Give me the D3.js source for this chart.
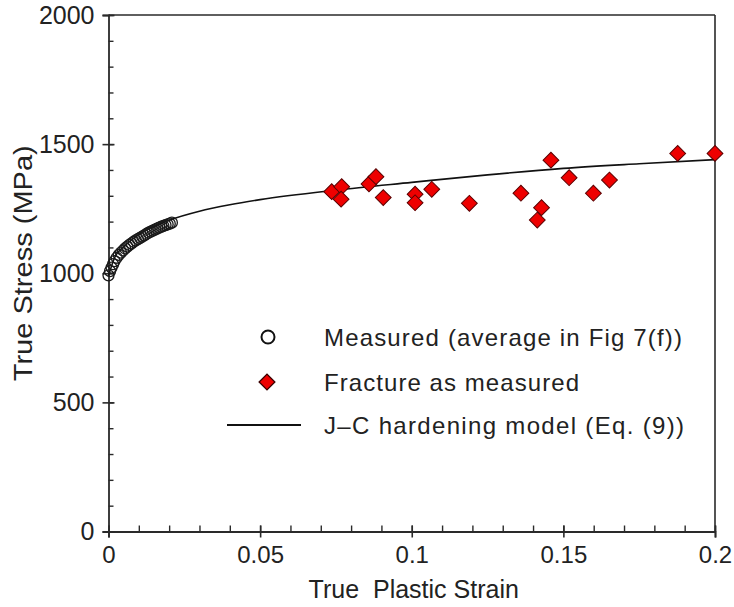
<!DOCTYPE html>
<html>
<head>
<meta charset="utf-8">
<script src="https://cdn.jsdelivr.net/npm/d3@7"></script>
<style>
  html, body { margin: 0; padding: 0; background: #fff; }
  svg { display: block; }
  text { font-family: "Liberation Sans", Arial, sans-serif; fill: #222; }
  .pre { white-space: pre; }
</style>
</head>
<body>
<svg id="chart" width="734" height="607"></svg>
<script>
// ---------- data ----------
const measuredStrain = [0.0000, 0.0005, 0.0010, 0.0015, 0.0020, 0.0027, 0.0034, 0.0041, 0.0048, 0.0055,
  0.0062, 0.0069, 0.0076, 0.0083, 0.0090, 0.0097, 0.0104, 0.0111, 0.0118, 0.0125,
  0.0132, 0.0139, 0.0146, 0.0153, 0.0160, 0.0167, 0.0174, 0.0181, 0.0188, 0.0195, 0.0202, 0.0209];
const measuredStress = [992, 1008, 1022, 1035, 1047, 1060, 1071, 1080, 1088, 1096,
  1103, 1110, 1116, 1122, 1127, 1132, 1137, 1142, 1147, 1152,
  1157, 1161, 1165, 1169, 1173, 1177, 1180, 1183, 1186, 1189, 1192, 1196];

const fractureStrain = [0.0736, 0.0769, 0.0767, 0.0859, 0.0882, 0.0906, 0.1011, 0.1011, 0.1066, 0.1190,
  0.1360, 0.1414, 0.1428, 0.1459, 0.1519, 0.1599, 0.1652, 0.1877, 0.2000];
const fractureStress = [1316, 1335, 1287, 1346, 1374, 1293, 1306, 1273, 1325, 1271,
  1310, 1206, 1254, 1438, 1370, 1310, 1361, 1464, 1464];

const modelStrain = [0, 0.002, 0.005, 0.01, 0.02, 0.03, 0.04, 0.05, 0.075, 0.1, 0.125, 0.15, 0.175, 0.2];
const modelStress = [990, 1060, 1102, 1150, 1205, 1240, 1265, 1285, 1322, 1352, 1381, 1406, 1424, 1440];

const xTicks = [0, 0.05, 0.1, 0.15, 0.2];
const xTickLabels = ["0", "0.05", "0.1", "0.15", "0.2"];
const yTicks = [0, 500, 1000, 1500, 2000];
const yTickLabels = ["0", "500", "1000", "1500", "2000"];
const xMinorTicks = d3.range(0, 21).map(i => i / 100);
const yMinorTicks = d3.range(0, 21).map(i => i * 100);

const legendLabels = ["Measured (average in Fig 7(f))", "Fracture as measured", "J\u2013C hardening model  (Eq. (9))"];
const xTitle = "True  Plastic Strain";
const yTitle = "True Stress (MPa)";

// ---------- layout ----------
const svg = d3.select("#chart");
const x = d3.scaleLinear().domain([0, 0.2]).range([108.5, 715]);
const y = d3.scaleLinear().domain([0, 2000]).range([531.5, 15]);
const axisColor = "#2a2a2a";

// frame (top and right)
svg.append("line").attr("x1", x(0)).attr("x2", x(0.2)).attr("y1", y(2000)).attr("y2", y(2000))
  .attr("stroke", axisColor).attr("stroke-width", 1.6);
svg.append("line").attr("x1", x(0.2)).attr("x2", x(0.2)).attr("y1", y(2000)).attr("y2", y(0))
  .attr("stroke", axisColor).attr("stroke-width", 1.6);

// minor ticks x (inward)
const gxMinor = svg.append("g").attr("transform", `translate(0,${y(0)})`)
  .call(d3.axisBottom(x).tickValues(xMinorTicks).tickSize(-6).tickFormat(""));
gxMinor.select(".domain").remove();
gxMinor.selectAll("line").attr("stroke", axisColor).attr("stroke-width", 1.4);

// minor ticks y (inward)
const gyMinor = svg.append("g").attr("transform", `translate(${x(0)},0)`)
  .call(d3.axisLeft(y).tickValues(yMinorTicks).tickSize(-5).tickFormat(""));
gyMinor.select(".domain").remove();
gyMinor.selectAll("line").attr("stroke", axisColor).attr("stroke-width", 1.4);

// major x axis
const gx = svg.append("g").attr("transform", `translate(0,${y(0)})`)
  .call(d3.axisBottom(x).tickValues(xTicks).tickSize(6).tickPadding(8)
    .tickFormat((d, i) => xTickLabels[i]));
gx.select(".domain").attr("stroke", axisColor).attr("stroke-width", 1.8);
gx.selectAll(".tick line").attr("y1", -6).attr("y2", 6).attr("stroke", axisColor).attr("stroke-width", 1.6);
gx.selectAll(".tick text").attr("font-size", 24).attr("font-family", "Liberation Sans, Arial, sans-serif")
  .attr("fill", "#222");

// major y axis
const gy = svg.append("g").attr("transform", `translate(${x(0)},0)`)
  .call(d3.axisLeft(y).tickValues(yTicks).tickSize(6).tickPadding(8)
    .tickFormat((d, i) => yTickLabels[i]));
gy.select(".domain").attr("stroke", axisColor).attr("stroke-width", 1.8);
gy.selectAll(".tick line").attr("x1", -6).attr("x2", 6).attr("stroke", axisColor).attr("stroke-width", 1.6);
gy.selectAll(".tick text").attr("font-size", 25).attr("font-family", "Liberation Sans, Arial, sans-serif")
  .attr("fill", "#222");

// axis titles
svg.append("text").attr("class", "pre").attr("x", (x(0) + x(0.2)) / 2 + 2).attr("y", 598)
  .attr("text-anchor", "middle").attr("font-size", 25).text(xTitle);
svg.append("text").attr("transform", `translate(32,${(y(0) + y(2000)) / 2 - 10}) rotate(-90)`)
  .attr("text-anchor", "middle").attr("font-size", 25)
  .attr("textLength", 236).attr("lengthAdjust", "spacingAndGlyphs").text(yTitle);

// model curve
const modelData = modelStrain.map((s, i) => [s, modelStress[i]]);
svg.append("path").datum(modelData)
  .attr("fill", "none").attr("stroke", "#111").attr("stroke-width", 1.6)
  .attr("d", d3.line().x(d => x(d[0])).y(d => y(d[1])).curve(d3.curveMonotoneX));

// measured circles
const measuredData = measuredStrain.map((s, i) => [s, measuredStress[i]]);
svg.append("g").selectAll("circle").data(measuredData).join("circle")
  .attr("cx", d => x(d[0])).attr("cy", d => y(d[1])).attr("r", 5.5)
  .attr("fill", "none").attr("stroke", "#1a1a1a").attr("stroke-width", 1.3);

// fracture diamonds
const diamond = d3.symbol().type(d3.symbolSquare).size(125);
const fractureData = fractureStrain.map((s, i) => [s, fractureStress[i]]);
svg.append("g").selectAll("path").data(fractureData).join("path")
  .attr("d", diamond)
  .attr("transform", d => `translate(${x(d[0])},${y(d[1])}) rotate(45)`)
  .attr("fill", "#ee0000").attr("stroke", "#5a0000").attr("stroke-width", 1);

// legend
const lg = svg.append("g");
lg.append("circle").attr("cx", 268).attr("cy", 337).attr("r", 6.5)
  .attr("fill", "#fff").attr("stroke", "#111").attr("stroke-width", 2);
lg.append("path").attr("d", d3.symbol().type(d3.symbolSquare).size(125))
  .attr("transform", "translate(267,382) rotate(45)")
  .attr("fill", "#ee0000").attr("stroke", "#3a0000").attr("stroke-width", 1.3);
lg.append("line").attr("x1", 227).attr("x2", 301).attr("y1", 425).attr("y2", 425)
  .attr("stroke", "#111").attr("stroke-width", 2);
const legendY = [346, 391, 434];
const legendW = [358, 255, 360];
legendLabels.forEach((t, i) => {
  lg.append("text").attr("x", 324).attr("y", legendY[i]).attr("font-size", 24)
    .attr("textLength", legendW[i]).attr("lengthAdjust", "spacing").text(t);
});
</script>
</body>
</html>
